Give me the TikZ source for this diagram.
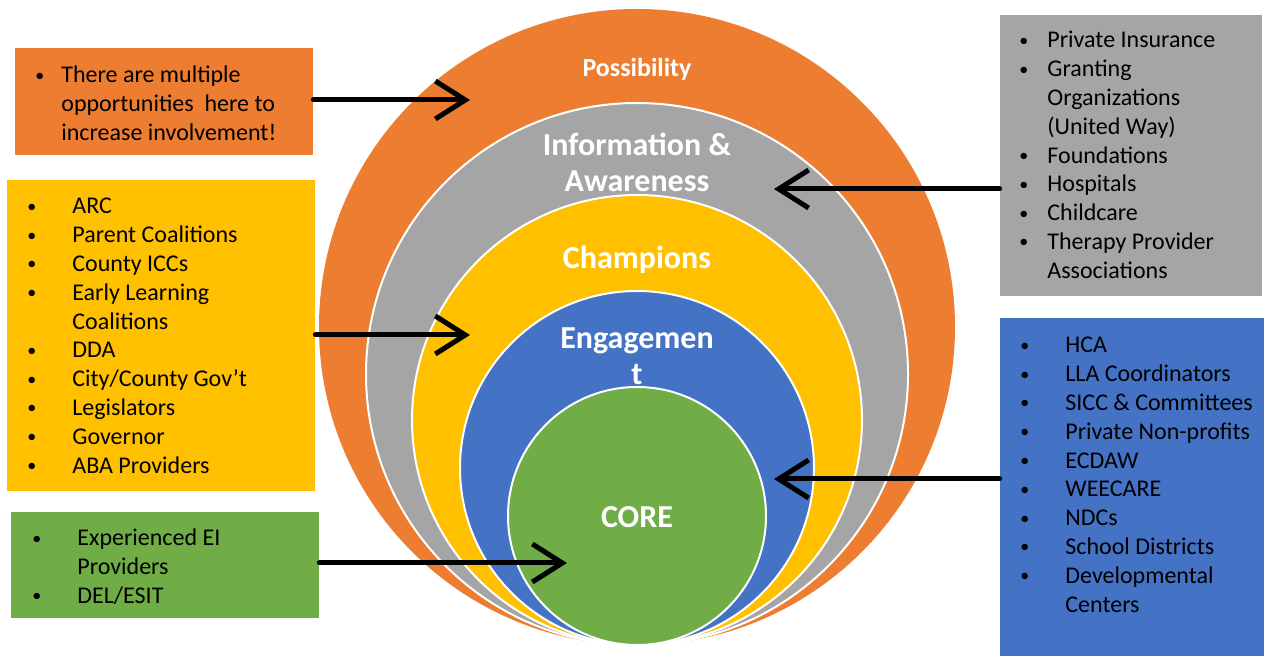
\documentclass[tikz,border=0pt]{standalone}
\usepackage{fontspec}
\setmainfont{Carlito}
\usepackage{tikz}
\usetikzlibrary{arrows.meta, positioning}

\definecolor{possorange}{HTML}{ED7D31}
\definecolor{infogray}{HTML}{A5A5A5}
\definecolor{champyellow}{HTML}{FFC000}
\definecolor{engageblue}{HTML}{4472C4}
\definecolor{coregreen}{HTML}{70AD47}

\newcommand{\bul}{\raisebox{0.8pt}{\fontsize{9}{9}\selectfont\textbullet}}

\begin{document}
\begin{tikzpicture}[
    x=0.5pt, y=-0.5pt,
    box/.style={rectangle, inner sep=0pt},
    ring/.style={circle, draw=white, line width=1pt, inner sep=0pt},
    ringtext/.style={text=white, inner sep=0pt, anchor=base, font=\bfseries\fontsize{16}{18}\selectfont},
    blist/.style={inner sep=0pt, anchor=base west, font=\fontsize{12}{14.4}\selectfont},
    arrow/.style={-{Straight Barb[length=15pt, width=19pt]}, line width=2.5pt, line cap=round, line join=round}
]
\fill[white] (0,0) rectangle (1264,656);
\useasboundingbox (0,0) rectangle (1264,656);

% the rings, all touching at the bottom
\node[ring, draw=none, fill=possorange, minimum size=318pt] (possib) at (637,327) {};
\node[ring, fill=infogray, minimum size=271pt] (inform) at (637,374) {};
\node[ring, fill=champyellow, minimum size=225pt] (champ) at (637,420) {};
\node[ring, fill=engageblue, minimum size=177pt] (engage) at (637,468) {};
\node[ring, fill=coregreen, minimum size=129pt] (core) at (637,516) {};

\node[ringtext, font=\bfseries\fontsize{13}{15}\selectfont] (posstext) at (637,77) {Possibility};
\node[ringtext] (infotext) at (637,156) {\begin{tabular}[t]{@{}c@{}}Information \&\\Awareness\end{tabular}};
\node[ringtext] (champtext) at (637,269) {Champions};
\node[ringtext] (engagetext) at (637,349) {\begin{tabular}[t]{@{}c@{}}Engagemen\\t\end{tabular}};
\node[ringtext] (coretext) at (637,528) {CORE};

% boxes
\node[box, fill=possorange, minimum width=149pt, minimum height=53.5pt] (oppbox) at (164,101.5) {};
\node[box, fill=champyellow, minimum width=154pt, minimum height=155.5pt] (champbox) at (161,335.5) {};
\node[box, fill=coregreen, minimum width=154pt, minimum height=53pt] (corebox) at (165,565) {};
\node[box, fill=infogray, minimum width=131pt, minimum height=140.5pt] (fundbox) at (1131,155.5) {};
\node[box, fill=engageblue, minimum width=132pt, minimum height=169pt] (agencybox) at (1132,487) {};

\node[blist] (opplist) at (35,83) {\begin{tabular}[t]{@{}p{13pt}@{}l@{}}
\bul & There are multiple\\
 & opportunities\ \ here to\\
 & increase involvement!
\end{tabular}};
\node[blist] (champlist) at (27,214) {\begin{tabular}[t]{@{}p{22.5pt}@{}l@{}}
\bul & ARC\\
\bul & Parent Coalitions\\
\bul & County ICCs\\
\bul & Early Learning\\
 & Coalitions\\
\bul & DDA\\
\bul & City/County Gov’t\\
\bul & Legislators\\
\bul & Governor\\
\bul & ABA Providers
\end{tabular}};
\node[blist] (corelist) at (32,546) {\begin{tabular}[t]{@{}p{22.5pt}@{}l@{}}
\bul & Experienced EI\\
 & Providers\\
\bul & DEL/ESIT
\end{tabular}};
\node[blist] (fundlist) at (1019,48) {\begin{tabular}[t]{@{}p{14pt}@{}l@{}}
\bul & Private Insurance\\
\bul & Granting\\
 & Organizations\\
 & (United Way)\\
\bul & Foundations\\
\bul & Hospitals\\
\bul & Childcare\\
\bul & Therapy Provider\\
 & Associations
\end{tabular}};
\node[blist] (agencylist) at (1020,353) {\begin{tabular}[t]{@{}p{22.5pt}@{}l@{}}
\bul & HCA\\
\bul & LLA Coordinators\\
\bul & SICC \& Committees\\
\bul & Private Non-profits\\
\bul & ECDAW\\
\bul & WEECARE\\
\bul & NDCs\\
\bul & School Districts\\
\bul & Developmental\\
 & Centers
\end{tabular}};

% arrow tips
\coordinate (posstip) at (470,100);
\coordinate (champtip) at (470,335);
\coordinate (coretip) at (567,563);
\coordinate (infotip) at (774,189);
\coordinate (engagetip) at (774,479);

\draw[arrow] (oppbox.east |- posstip) -- (posstip);
\draw[arrow] (champbox.east |- champtip) -- (champtip);
\draw[arrow] (corebox.east |- coretip) -- (coretip);
\draw[arrow] (fundbox.west |- infotip) -- (infotip);
\draw[arrow] (agencybox.west |- engagetip) -- (engagetip);
\end{tikzpicture}
\end{document}
